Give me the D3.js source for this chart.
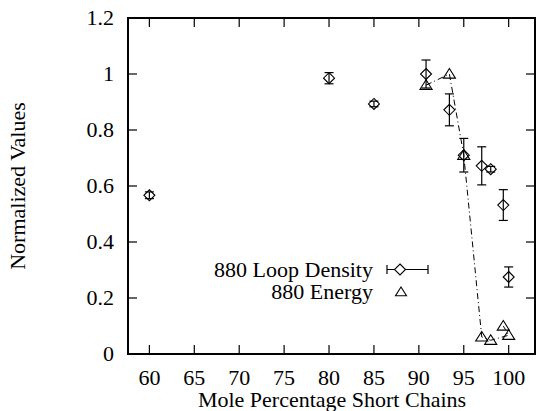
<!DOCTYPE html>
<html>
<head>
<meta charset="utf-8">
<script src="https://cdn.jsdelivr.net/npm/d3@7"></script>
<style>
  body { margin: 0; background: #fff; }
</style>
</head>
<body>
<svg id="chart" width="536" height="411"></svg>
<script>
// loop density (diamonds with y error bars)
var densityX   = [60, 80, 85, 90.8, 93.4, 95, 97, 98, 99.4, 100];
var densityY   = [0.567, 0.985, 0.893, 1.0, 0.872, 0.71, 0.672, 0.66, 0.532, 0.275];
var densityErr = [0.012, 0.02, 0.01, 0.05, 0.057, 0.06, 0.068, 0.01, 0.055, 0.036];

// energy (triangles joined by dash-dot line)
var energyX = [90.8, 93.4, 95, 97, 98, 100, 99.4];
var energyY = [0.96, 1.0, 0.71, 0.061, 0.049, 0.067, 0.1];

var xTicks = [60, 65, 70, 75, 80, 85, 90, 95, 100];
var yTicks = [0, 0.2, 0.4, 0.6, 0.8, 1, 1.2];

var FONT = "'Liberation Serif', 'DejaVu Serif', serif";

var svg = d3.select('#chart');
var pLeft = 128, pRight = 535, pTop = 18, pBottom = 354;

var x = d3.scaleLinear().domain([57.62, 102.93]).range([pLeft, pRight]);
var y = d3.scaleLinear().domain([0, 1.2]).range([pBottom, pTop]);

function label(px, py, str, anchor){
  return svg.append('text').attr('x', px).attr('y', py).attr('text-anchor', anchor)
    .style('font-family', FONT).style('font-size', '22px').attr('fill', '#000').text(str);
}

// ticks inside the frame on all four sides
var tl = 9;
xTicks.forEach(function(t){
  svg.append('line').attr('x1', x(t)).attr('x2', x(t)).attr('y1', pBottom).attr('y2', pBottom - tl)
    .attr('stroke', '#000').attr('stroke-width', 1.2);
  svg.append('line').attr('x1', x(t)).attr('x2', x(t)).attr('y1', pTop).attr('y2', pTop + tl)
    .attr('stroke', '#000').attr('stroke-width', 1.2);
  label(x(t), 385, t, 'middle');
});
yTicks.forEach(function(t){
  svg.append('line').attr('x1', pLeft).attr('x2', pLeft + tl).attr('y1', y(t)).attr('y2', y(t))
    .attr('stroke', '#000').attr('stroke-width', 1.2);
  svg.append('line').attr('x1', pRight).attr('x2', pRight - tl).attr('y1', y(t)).attr('y2', y(t))
    .attr('stroke', '#000').attr('stroke-width', 1.2);
  label(114, y(t) + 7, t, 'end');
});

svg.append('rect').attr('x', pLeft).attr('y', pTop).attr('width', pRight - pLeft).attr('height', pBottom - pTop)
  .attr('fill', 'none').attr('stroke', '#000').attr('stroke-width', 2);

// axis titles
label(332, 407, 'Mole Percentage Short Chains', 'middle');
label(0, 0, 'Normalized Values', 'middle').attr('transform', 'translate(25,186) rotate(-90)');

function diamond(s){ return 'M0,' + (-s) + 'L' + s + ',0L0,' + s + 'L' + (-s) + ',0Z'; }
function triangle(s){ return 'M0,' + (-s) + 'L' + (s * 1.1) + ',' + (s * 0.75) + 'L' + (-s * 1.1) + ',' + (s * 0.75) + 'Z'; }

// energy line
var line = d3.line().x(function(d){ return x(d[0]); }).y(function(d){ return y(d[1]); });
var energy = d3.zip(energyX, energyY);
svg.append('path').attr('d', line(energy)).attr('fill', 'none').attr('stroke', '#000')
  .attr('stroke-width', 1).attr('stroke-dasharray', '6,3,1,3');

// error bars
var cap = 4.5;
densityX.forEach(function(v, i){
  var cx = x(v), y0 = y(densityY[i] - densityErr[i]), y1 = y(densityY[i] + densityErr[i]);
  svg.append('line').attr('x1', cx).attr('x2', cx).attr('y1', y0).attr('y2', y1).attr('stroke', '#000').attr('stroke-width', 1.2);
  svg.append('line').attr('x1', cx - cap).attr('x2', cx + cap).attr('y1', y0).attr('y2', y0).attr('stroke', '#000').attr('stroke-width', 1.2);
  svg.append('line').attr('x1', cx - cap).attr('x2', cx + cap).attr('y1', y1).attr('y2', y1).attr('stroke', '#000').attr('stroke-width', 1.2);
  svg.append('path').attr('d', diamond(5.5)).attr('transform', 'translate(' + cx + ',' + y(densityY[i]) + ')')
    .attr('fill', 'none').attr('stroke', '#000').attr('stroke-width', 1.1);
});

energy.forEach(function(d){
  svg.append('path').attr('d', triangle(5.5)).attr('transform', 'translate(' + x(d[0]) + ',' + y(d[1]) + ')')
    .attr('fill', 'none').attr('stroke', '#000').attr('stroke-width', 1.1);
});

// legend
label(373, 277, '880 Loop Density', 'end');
label(373, 299, '880 Energy', 'end');
var ly = 269.5;
svg.append('line').attr('x1', 387).attr('x2', 428).attr('y1', ly).attr('y2', ly).attr('stroke', '#000').attr('stroke-width', 1.2);
svg.append('line').attr('x1', 387).attr('x2', 387).attr('y1', ly - cap).attr('y2', ly + cap).attr('stroke', '#000').attr('stroke-width', 1.2);
svg.append('line').attr('x1', 428).attr('x2', 428).attr('y1', ly - cap).attr('y2', ly + cap).attr('stroke', '#000').attr('stroke-width', 1.2);
svg.append('path').attr('d', diamond(5.5)).attr('transform', 'translate(400,' + ly + ')')
  .attr('fill', '#fff').attr('stroke', '#000').attr('stroke-width', 1.1);
svg.append('path').attr('d', triangle(5)).attr('transform', 'translate(401,292)')
  .attr('fill', 'none').attr('stroke', '#000').attr('stroke-width', 1.1);
</script>
</body>
</html>
